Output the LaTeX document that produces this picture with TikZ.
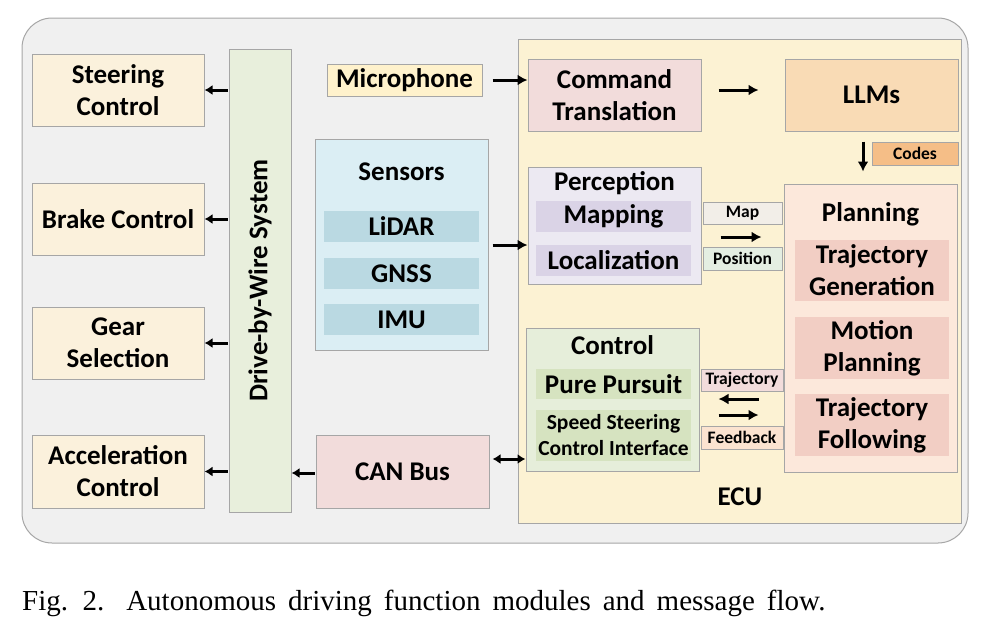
\documentclass[tikz,border=0pt]{standalone}
\usepackage{fontspec}
\setmainfont{Carlito}
\newfontfamily\capfont{Liberation Serif}
\usetikzlibrary{calc,arrows.meta}
\definecolor{bordergray}{HTML}{A6A6A6}
\definecolor{bggray}{HTML}{F0F0F0}
\definecolor{cream}{HTML}{FBF1DC}
\definecolor{dbwgreen}{HTML}{E8EFDC}
\definecolor{micyellow}{HTML}{FFF2CC}
\definecolor{senblue}{HTML}{DBEEF4}
\definecolor{senbar}{HTML}{BAD9E2}
\definecolor{ecucream}{HTML}{FCF2D3}
\definecolor{pinkbox}{HTML}{F2DCDB}
\definecolor{llmorange}{HTML}{F9DBB5}
\definecolor{codesorange}{HTML}{F5BE87}
\definecolor{perclav}{HTML}{ECE9F2}
\definecolor{percbar}{HTML}{DAD3E6}
\definecolor{maptag}{HTML}{F2EEE8}
\definecolor{postag}{HTML}{E4EEE2}
\definecolor{planpeach}{HTML}{FCE8DB}
\definecolor{planbar}{HTML}{F2CEC4}
\definecolor{ctrlgreen}{HTML}{E6EEDA}
\definecolor{ctrlbar}{HTML}{D6E3C0}
\definecolor{fbtag}{HTML}{FBE3D0}
\begin{document}
\begin{tikzpicture}[x=1pt,y=-1pt,
  bigfont/.style={font=\bfseries\fontsize{27}{32}\selectfont},
  box/.style={draw=bordergray, line width=1pt, rectangle, inner sep=0pt, align=center, bigfont},
  bar/.style={rectangle, inner sep=0pt, align=center, bigfont},
  tag/.style={draw=bordergray, line width=0.8pt, rectangle, inner sep=0pt, font=\bfseries\fontsize{17.5}{20}\selectfont},
  title/.style={inner sep=0pt, bigfont},
  arr/.style={-{Latex[length=10pt,width=11pt]}, line width=3pt},
  sarr/.style={-{Latex[length=8pt,width=10pt]}, line width=3pt},
  darr/.style={{Latex[length=8pt,width=10pt]}-{Latex[length=8pt,width=10pt]}, line width=3pt}
]
\useasboundingbox (0,0) rectangle (1006,630);
% background
\node[draw=bordergray, fill=bggray, line width=1pt, rounded corners=30pt, minimum width=946pt, minimum height=525pt, inner sep=0pt] (bg) at (495,280.5) {};
% left column
\node[box, fill=cream, minimum width=172pt, minimum height=72pt] (steer) at (118,90) {Steering\\Control};
\node[box, fill=cream, minimum width=172pt, minimum height=72pt] (brake) at (118,219) {Brake Control};
\node[box, fill=cream, minimum width=172pt, minimum height=72pt] (gear) at (118,343) {Gear\\Selection};
\node[box, fill=cream, minimum width=172pt, minimum height=73pt] (accel) at (118,471.5) {Acceleration\\Control};
% drive by wire
\node[box, fill=dbwgreen, minimum width=62pt, minimum height=463pt] (dbw) at (260,280.5) {};
\node[title, rotate=90] (dbwtext) at (dbw.center) {Drive-by-Wire System};
% microphone
\node[box, fill=micyellow, minimum width=155pt, minimum height=32pt] (mic) at (404.5,80) {Microphone};
% sensors
\node[box, fill=senblue, minimum width=173pt, minimum height=211pt] (sens) at (401.5,244.5) {};
\node[title] (senstitle) at (401.5,172) {Sensors};
\node[bar, fill=senbar, minimum width=155pt, minimum height=31pt] (lidar) at (401.5,226.5) {LiDAR};
\node[bar, fill=senbar, minimum width=155pt, minimum height=31pt] (gnss) at (401.5,273.5) {GNSS};
\node[bar, fill=senbar, minimum width=155pt, minimum height=31pt] (imu) at (401.5,319.5) {IMU};
% can bus
\node[box, fill=pinkbox, minimum width=173pt, minimum height=73pt] (can) at (402.5,471.5) {CAN Bus};
% ECU
\node[box, fill=ecucream, minimum width=443pt, minimum height=484pt] (ecu) at (739.5,281) {};
\node[title] (ecutext) at (740,497) {ECU};
\node[box, fill=pinkbox, minimum width=173pt, minimum height=72pt] (cmd) at (614.5,95) {Command\\Translation};
\node[box, fill=llmorange, minimum width=173pt, minimum height=72pt] (llm) at (871.5,95) {LLMs};
\node[tag, fill=codesorange, minimum width=86pt, minimum height=23pt] (codes) at (915,153.5) {Codes};
% perception
\node[box, fill=perclav, minimum width=173pt, minimum height=117pt] (perc) at (614.5,225.5) {};
\node[title] (perctitle) at (614.5,183) {Perception};
\node[bar, fill=percbar, minimum width=155pt, minimum height=31pt] (mapping) at (613.5,216.5) {Mapping};
\node[bar, fill=percbar, minimum width=155pt, minimum height=31pt] (local) at (613.5,260.5) {Localization};
\node[tag, fill=maptag, minimum width=79pt, minimum height=22pt] (maptg) at (742.5,213) {Map};
\node[tag, fill=postag, minimum width=79pt, minimum height=23pt] (postg) at (742.5,258.5) {Position};
% planning
\node[box, fill=planpeach, minimum width=173pt, minimum height=288pt] (plan) at (870.5,328) {};
\node[title] (plantitle) at (870.5,214) {Planning};
\node[bar, fill=planbar, minimum width=154pt, minimum height=61pt] (tg) at (872,270.5) {Trajectory\\Generation};
\node[bar, fill=planbar, minimum width=154pt, minimum height=62pt] (mp) at (872,348) {Motion\\Planning};
\node[bar, fill=planbar, minimum width=154pt, minimum height=62pt] (tf) at (872,425) {Trajectory\\Following};
% control
\node[box, fill=ctrlgreen, minimum width=173pt, minimum height=143pt] (ctrl) at (612.5,399.5) {};
\node[title] (ctrltitle) at (612.5,345) {Control};
\node[bar, fill=ctrlbar, minimum width=155pt, minimum height=30pt] (pp) at (613.5,384) {Pure Pursuit};
\node[bar, fill=ctrlbar, minimum width=155pt, minimum height=51pt, font=\bfseries\fontsize{21.5}{26}\selectfont] (ssci) at (613.5,435.5) {Speed Steering\\Control Interface};
\node[tag, fill=pinkbox, minimum width=82pt, minimum height=22pt] (trajtg) at (742,380) {Trajectory};
\node[tag, fill=fbtag, minimum width=82pt, minimum height=23pt] (fbtg) at (742,437.5) {Feedback};
% arrows
\draw[sarr] ($(dbw.west |- steer.east)+(-1,0)$) -- (steer.east);
\draw[sarr] ($(dbw.west |- brake.east)+(-1,0)$) -- (brake.east);
\draw[sarr] ($(dbw.west |- gear.east)+(-1,0)$) -- (gear.east);
\draw[sarr] ($(dbw.west |- accel.east)+(-1,0)$) -- (accel.east);
\draw[sarr] ($(can.west)+(-1,1.5)$) -- ($(dbw.east |- can.west)+(0,1.5)$);
\draw[arr] ($(mic.east)+(10,0)$) -- (cmd.west |- mic.east);
\draw[arr] ($(sens.east)+(4,0.5)$) -- ($(perc.west |- sens.east)+(0,0.5)$);
\draw[arr] ($(cmd.east)+(17,-5)$) -- ($(llm.west)+(-26,-5)$);
\draw[arr] ($(llm.south)+(-8.5,10)$) -- ($(plan.north)+(-7.5,-12)$);
\draw[arr] ($(perc.east)+(19,11.5)$) -- ($(plan.west)+(-22,-91)$);
\draw[arr] ($(plan.west)+(-25,71)$) -- ($(ctrl.east)+(19,-0.5)$);
\draw[arr] ($(ctrl.east)+(19,15.5)$) -- ($(plan.west)+(-25,87)$);
\draw[darr] ($(can.east)+(3,-12.5)$) -- ($(ctrl.west)+(0,59.5)$);
% caption
\node[anchor=base west, inner sep=0pt, font=\capfont\fontsize{29}{34}\selectfont] (caption) at (22,610) {\spaceskip=12pt plus 1pt Fig. 2.\hspace{22pt}Autonomous driving function modules and message flow.};
\end{tikzpicture}
\end{document}
